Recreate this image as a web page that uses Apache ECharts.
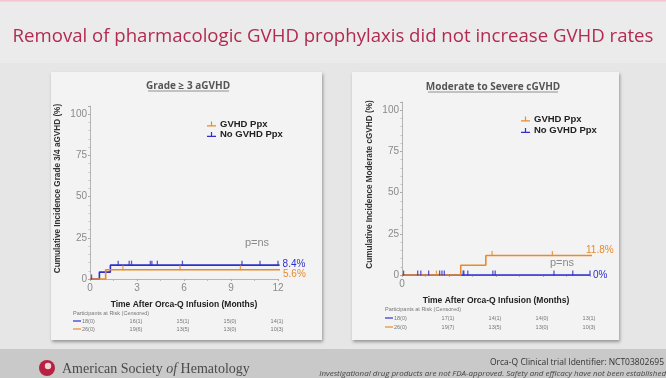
<!DOCTYPE html>
<html><head><meta charset="utf-8">
<script src="https://cdn.jsdelivr.net/npm/echarts@6/dist/echarts.min.js"></script>
<style>html,body{margin:0;padding:0;background:#e8e8e8}#c{width:666px;height:378px}</style>
</head><body><div id="c"></div>
<script>
// ---------- data ----------
const monthTicks = [0, 3, 6, 9, 12];
const legendNames = ['GVHD Ppx', 'No GVHD Ppx'];
const titleText = 'Removal of pharmacologic GVHD prophylaxis did not increase GVHD rates';
// Left panel: Grade >= 3 aGVHD
const aTitle = 'Grade ≥ 3 aGVHD';
const aYName = 'Cumulative Incidence Grade 3/4 aGVHD (%)';
const aPpxSteps = [[0, 0], [1.0, 5.6], [12.2, 5.6]];
const aNoPpxSteps = [[0, 0], [0.6, 4.2], [1.3, 8.4], [12.1, 8.4]];
const aPpxCensor = [[2.1, 5.6], [5.75, 5.6], [9.6, 5.6]];
const aNoPpxCensor = [[0.1, 0], [1.8, 8.4], [2.5, 8.4], [2.65, 8.4], [3.85, 8.4], [3.95, 8.4], [4.3, 8.4], [5.9, 8.4], [9.7, 8.4], [10.85, 8.4], [12.0, 8.4]];
const aEndLabels = ['5.6%', '8.4%'];
const aRiskNoPpx = ['18(0)', '16(1)', '15(1)', '15(0)', '14(1)'];
const aRiskPpx = ['26(0)', '19(6)', '13(5)', '13(0)', '10(3)'];
// Right panel: Moderate to Severe cGVHD
const cTitle = 'Moderate to Severe cGVHD';
const cYName = 'Cumulative Incidence Moderate cGVHD (%)';
const cPpxSteps = [[0, 0], [3.75, 5.9], [5.35, 11.8], [12.2, 11.8]];
const cNoPpxSteps = [[0, 0], [12.0, 0]];
const cPpxCensor = [[2.2, 0], [5.75, 11.8], [9.6, 11.8]];
const cNoPpxCensor = [[0.1, 0], [1.0, 0], [1.2, 0], [1.7, 0], [2.4, 0], [2.55, 0], [2.7, 0], [3.9, 0], [3.95, 0], [4.2, 0], [5.8, 0], [5.95, 0], [9.7, 0], [10.9, 0], [12.0, 0]];
const cEndLabels = ['11.8%', '0%'];
const cRiskNoPpx = ['18(0)', '17(1)', '14(1)', '14(0)', '13(1)'];
const cRiskPpx = ['26(0)', '19(7)', '13(5)', '13(0)', '10(3)'];

// ---------- styling ----------
const BLUE = '#2f2fcc', ORANGE = '#e98a2c';
const SANS = 'Liberation Sans';
const chart = echarts.init(document.getElementById('c'), null, {renderer: 'canvas', width: 666, height: 378});

function stepSeries(name, data, color, idx, endText, endOffset, z) {
  return {type: 'line', name, xAxisIndex: idx, yAxisIndex: idx, data, step: 'end', showSymbol: false, symbol: 'none',
    clip: false, z, color, lineStyle: {color, width: 1.6}, itemStyle: {color}, animation: false, silent: true,
    endLabel: {show: true, formatter: endText, color, fontSize: 10, fontFamily: SANS, offset: endOffset, distance: 3}};
}
function censorSeries(name, data, color, idx, z) {
  return {type: 'scatter', name, xAxisIndex: idx, yAxisIndex: idx, data, symbol: 'rect', symbolSize: [1.3, 5],
    symbolOffset: [0, -2], itemStyle: {color}, z, clip: false, silent: true, animation: false};
}
function xAx(idx, showAll) {
  return {type: 'value', gridIndex: idx, min: 0, max: 12, interval: 3,
    axisLine: {lineStyle: {color: '#b5b5b5', width: 1}},
    axisTick: {show: true, length: 2, lineStyle: {color: '#aaa'}},
    minorTick: {show: true, splitNumber: 2, length: 2, lineStyle: {color: '#bbb'}},
    splitLine: {show: false},
    axisLabel: {color: '#8a8a8a', fontSize: 10, fontFamily: SANS, margin: 4,
      formatter: v => (showAll || v === 0) ? String(v) : ''},
    name: 'Time After Orca-Q Infusion (Months)', nameLocation: 'middle', nameGap: 21,
    nameTextStyle: {color: '#222', fontWeight: 'bold', fontSize: 8.5, fontFamily: SANS}};
}
function yAx(idx, name) {
  return {type: 'value', gridIndex: idx, min: 0, max: 105, interval: 25,
    axisLine: {show: true, lineStyle: {color: '#b5b5b5', width: 1}},
    axisTick: {show: true, length: 2, lineStyle: {color: '#aaa'}},
    minorTick: {show: true, splitNumber: 5, length: 1.5, lineStyle: {color: '#c5c5c5'}},
    splitLine: {show: false},
    axisLabel: {color: '#8a8a8a', fontSize: 10, fontFamily: SANS, margin: 3,
      formatter: v => (v % 25 === 0 ? String(v) : '')},
    name, nameLocation: 'middle', nameGap: 28,
    nameTextStyle: {color: '#333', fontWeight: 'bold', fontSize: 8.2, fontFamily: SANS, padding: [0, 0, 0, 8]}};
}
const legendIcon = 'path://M0,7h12v1.6h-12z M5.2,2h1.6v5h-1.6z';
function legend(left, top, gap) {
  return {data: legendNames, left, top, orient: 'vertical', itemGap: gap, itemWidth: 9, itemHeight: 7,
    icon: legendIcon, selectedMode: false, padding: 0,
    textStyle: {color: '#222', fontWeight: 'bold', fontSize: 9.5, fontFamily: SANS, padding: [0, 0, 0, -1], lineHeight: 10}};
}

const bg = [
  {type: 'rect', shape: {x: 0, y: 0, width: 666, height: 378}, style: {fill: '#e6e6e6'}, z: -20, silent: true},
  {type: 'rect', shape: {x: 0, y: 0, width: 666, height: 63}, style: {fill: '#ebebeb'}, z: -19, silent: true},
  {type: 'rect', shape: {x: 0, y: 0, width: 666, height: 1.5}, style: {fill: '#f3c3cf'}, z: -18, silent: true},
  // cards
  {type: 'rect', shape: {x: 51, y: 72, width: 271, height: 268}, style: {fill: '#f3f3f3', shadowBlur: 3, shadowColor: 'rgba(0,0,0,0.35)', shadowOffsetX: 1, shadowOffsetY: 2}, z: -15, silent: true},
  {type: 'rect', shape: {x: 352, y: 72, width: 267, height: 268}, style: {fill: '#f3f3f3', shadowBlur: 3, shadowColor: 'rgba(0,0,0,0.35)', shadowOffsetX: 1, shadowOffsetY: 2}, z: -15, silent: true},
  // footer
  {type: 'rect', shape: {x: 0, y: 349, width: 666, height: 29}, style: {fill: '#c9c9c9'}, z: -14, silent: true},
];
const texts = [
  {type: 'text', x: 333, y: 37, style: {text: titleText, fill: '#b22a50', font: '18.6px "Open Sans"', align: 'center', verticalAlign: 'middle'}, z: 10},
  {type: 'text', x: 188, y: 86, style: {text: aTitle, fill: '#555', font: 'bold 10px "Open Sans"', align: 'center', verticalAlign: 'middle'}, z: 10},
  {type: 'line', shape: {x1: 148, y1: 91, x2: 229, y2: 91}, style: {stroke: '#777', lineWidth: 0.8}, z: 10},
  {type: 'text', x: 493, y: 87, style: {text: cTitle, fill: '#555', font: 'bold 10px "Open Sans"', align: 'center', verticalAlign: 'middle'}, z: 10},
  {type: 'line', shape: {x1: 428, y1: 92, x2: 558, y2: 92}, style: {stroke: '#777', lineWidth: 0.8}, z: 10},
  {type: 'text', x: 257, y: 243, style: {text: 'p=ns', fill: '#8a8a8a', font: '11px "Liberation Sans"', align: 'center', verticalAlign: 'middle'}, z: 10},
  {type: 'text', x: 562, y: 263, style: {text: 'p=ns', fill: '#8a8a8a', font: '11px "Liberation Sans"', align: 'center', verticalAlign: 'middle'}, z: 10},
  // footer
  {type: 'circle', shape: {cx: 47, cy: 368, r: 8}, style: {fill: '#b8213f'}, z: 10},
  {type: 'circle', shape: {cx: 48, cy: 366, r: 3.2}, style: {fill: '#f2d6dc'}, z: 11},
  {type: 'text', x: 62, y: 369, style: {text: '{a|American Society }{b|of}{a| Hematology}', verticalAlign: 'middle',
    rich: {a: {fill: '#4a4a4a', font: '14px "Liberation Serif"'}, b: {fill: '#4a4a4a', font: 'italic 14px "Liberation Serif"'}}}, z: 10},
  {type: 'text', x: 664, y: 363, style: {text: 'Orca-Q Clinical trial Identifier: NCT03802695', fill: '#333', font: '8.5px "Open Sans"', align: 'right', verticalAlign: 'middle'}, z: 10},
  {type: 'text', x: 666, y: 374, style: {text: 'Investigational drug products are not FDA-approved. Safety and efficacy have not been established', fill: '#444', font: 'italic 8px "Open Sans"', align: 'right', verticalAlign: 'middle'}, z: 10},
];

const option = {
  animation: false,
  grid: [
    {left: 90, top: 106, width: 188, height: 173},
    {left: 402, top: 102, width: 188, height: 173}
  ],
  xAxis: [xAx(0, true), xAx(1, false)],
  yAxis: [yAx(0, aYName), yAx(1, cYName)],
  legend: [legend(207, 119, 0.5), legend(521, 114, 1.5)],
  series: [
    stepSeries(legendNames[1], aNoPpxSteps, BLUE, 0, aEndLabels[1], [0, -1], 3),
    stepSeries(legendNames[0], aPpxSteps, ORANGE, 0, aEndLabels[0], [0, 4], 4),
    censorSeries('aNoPpxCensor', aNoPpxCensor, BLUE, 0, 5),
    censorSeries('aPpxCensor', aPpxCensor, ORANGE, 0, 5),
    stepSeries(legendNames[1], cNoPpxSteps, BLUE, 1, cEndLabels[1], [0, 0], 3),
    stepSeries(legendNames[0], cPpxSteps, ORANGE, 1, cEndLabels[0], [-9, -5], 4),
    censorSeries('cNoPpxCensor', cNoPpxCensor, BLUE, 1, 5),
    censorSeries('cPpxCensor', cPpxCensor, ORANGE, 1, 6),
  ],
  graphic: {elements: bg.concat(texts)}
};
chart.setOption(option);

// at-risk tables, columns aligned with month ticks
function riskTable(gridIdx, labelPos, rowY, rows) {
  const els = [];
  els.push({type: 'text', x: labelPos[0], y: labelPos[1], style: {text: 'Participants at Risk (Censored)', fill: '#777', font: '5.5px "Liberation Sans"', verticalAlign: 'middle'}, z: 10});
  rows.forEach((r, ri) => {
    const y = rowY[ri];
    els.push({type: 'line', shape: {x1: labelPos[0], y1: y, x2: labelPos[0] + 8, y2: y}, style: {stroke: r.color, lineWidth: 1.2}, z: 10});
    r.vals.forEach((v, i) => {
      if (i === 0) {
        els.push({type: 'text', x: labelPos[0] + 9, y, style: {text: v, fill: '#777', font: '5.5px "Liberation Sans"', verticalAlign: 'middle'}, z: 10});
      } else {
        const px = chart.convertToPixel({gridIndex: gridIdx}, [monthTicks[i], 0])[0];
        els.push({type: 'text', x: px - 1, y, style: {text: v, fill: '#777', font: '5.5px "Liberation Sans"', align: 'center', verticalAlign: 'middle'}, z: 10});
      }
    });
  });
  return els;
}
const extra = riskTable(0, [73, 313], [321, 329], [{color: BLUE, vals: aRiskNoPpx}, {color: ORANGE, vals: aRiskPpx}])
  .concat(riskTable(1, [385, 309], [318, 327], [{color: BLUE, vals: cRiskNoPpx}, {color: ORANGE, vals: cRiskPpx}]));
chart.setOption({graphic: {elements: bg.concat(texts).concat(extra)}});
</script>
</body></html>
